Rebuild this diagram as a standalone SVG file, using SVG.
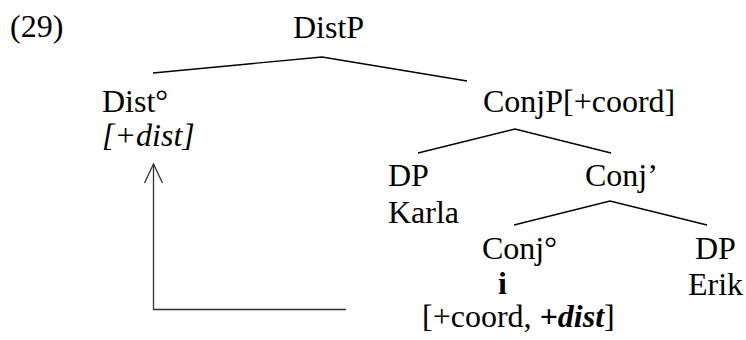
<svg xmlns="http://www.w3.org/2000/svg" width="746" height="340" viewBox="0 0 746 340">
  <style>
    .edge { stroke: #000; stroke-width: 1.3; fill: none; }
    .move { stroke: #333; stroke-width: 1.3; fill: none; }
  </style>
  <rect width="746" height="340" fill="#fff"/>

  <!-- tree labels: each set in a Times-metric serif -->
  <text x="10" y="37" font-family="Liberation Serif" font-size="32">(29)</text>

  <g id="distp"><text x="293" y="38" font-family="Liberation Serif" font-size="32">DistP</text></g>
  <g id="dist0">
    <text x="102" y="112" font-family="Liberation Serif" font-size="32">Dist°</text>
    <text x="102" y="146" font-family="Liberation Serif" font-size="32" font-style="italic">[+dist]</text>
  </g>
  <g id="conjp"><text x="483" y="112" font-family="Liberation Serif" font-size="32">ConjP[+coord]</text></g>
  <g id="dp-karla">
    <text x="388" y="186" font-family="Liberation Serif" font-size="32">DP</text>
    <text x="388" y="223" font-family="Liberation Serif" font-size="32">Karla</text>
  </g>
  <g id="conjbar"><text x="585" y="186" font-family="Liberation Serif" font-size="32">Conj’</text></g>
  <g id="conj0">
    <text x="482" y="259" font-family="Liberation Serif" font-size="32">Conj°</text>
    <text x="498" y="294" font-family="Liberation Serif" font-size="32" font-weight="bold">i</text>
    <text x="422" y="327" font-family="Liberation Serif" font-size="32">[+coord, <tspan font-weight="bold" font-style="italic">+dist</tspan>]</text>
  </g>
  <g id="dp-erik">
    <text x="695" y="259" font-family="Liberation Serif" font-size="32">DP</text>
    <text x="688" y="295" font-family="Liberation Serif" font-size="32">Erik</text>
  </g>

  <!-- branches and the movement arrow -->
  <g id="connectors">
    <polyline class="edge" points="153,73 322,57 467,81"/>
    <polyline class="edge" points="418,153 515,129 611,153"/>
    <polyline class="edge" points="514,225 610,201 707,225"/>
    <polyline class="move" points="346,309.5 153.5,309.5 153.5,164"/>
    <polyline class="move" points="144.5,183 153.5,164 162.5,183"/>
  </g>
</svg>
